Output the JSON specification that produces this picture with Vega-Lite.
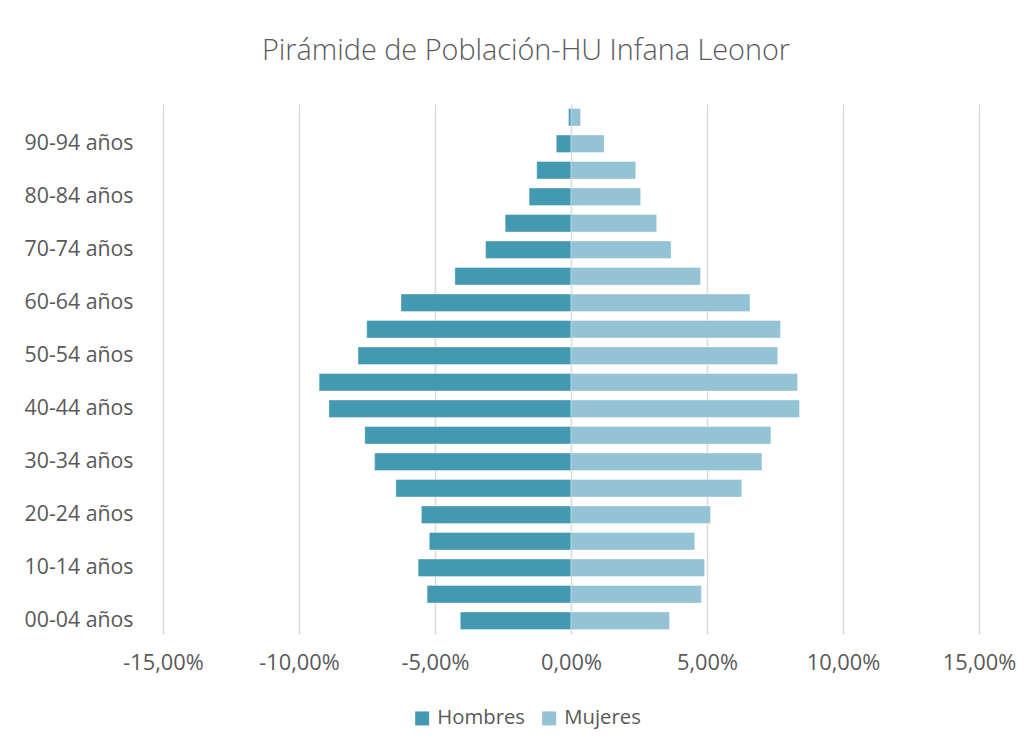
{
  "$schema": "https://vega.github.io/schema/vega-lite/v6.json",
  "width": 816,
  "height": 530,
  "autosize": {"type": "none"},
  "padding": {"left": 163, "top": 104, "right": 51, "bottom": 115},
  "background": "white",
  "title": {
    "text": "Pirámide de Población-HU Infana Leonor",
    "anchor": "middle",
    "frame": "group",
    "dx": -45,
    "offset": 38,
    "font": "Open Sans",
    "fontSize": 28.8,
    "fontWeight": 300,
    "color": "#595959"
  },
  "data": {
    "values": [
      {"edad": "00-04 años", "sexo": "Hombres", "valor": -0.0407},
      {"edad": "05-09 años", "sexo": "Hombres", "valor": -0.0529},
      {"edad": "10-14 años", "sexo": "Hombres", "valor": -0.0562},
      {"edad": "15-19 años", "sexo": "Hombres", "valor": -0.0521},
      {"edad": "20-24 años", "sexo": "Hombres", "valor": -0.0550},
      {"edad": "25-29 años", "sexo": "Hombres", "valor": -0.0644},
      {"edad": "30-34 años", "sexo": "Hombres", "valor": -0.0722},
      {"edad": "35-39 años", "sexo": "Hombres", "valor": -0.0758},
      {"edad": "40-44 años", "sexo": "Hombres", "valor": -0.0890},
      {"edad": "45-49 años", "sexo": "Hombres", "valor": -0.0926},
      {"edad": "50-54 años", "sexo": "Hombres", "valor": -0.0783},
      {"edad": "55-59 años", "sexo": "Hombres", "valor": -0.0751},
      {"edad": "60-64 años", "sexo": "Hombres", "valor": -0.0625},
      {"edad": "65-69 años", "sexo": "Hombres", "valor": -0.0427},
      {"edad": "70-74 años", "sexo": "Hombres", "valor": -0.0314},
      {"edad": "75-79 años", "sexo": "Hombres", "valor": -0.0242},
      {"edad": "80-84 años", "sexo": "Hombres", "valor": -0.0154},
      {"edad": "85-89 años", "sexo": "Hombres", "valor": -0.0126},
      {"edad": "90-94 años", "sexo": "Hombres", "valor": -0.0054},
      {"edad": "95+ años", "sexo": "Hombres", "valor": -0.0009},
      {"edad": "00-04 años", "sexo": "Mujeres", "valor": 0.0362},
      {"edad": "05-09 años", "sexo": "Mujeres", "valor": 0.0479},
      {"edad": "10-14 años", "sexo": "Mujeres", "valor": 0.0491},
      {"edad": "15-19 años", "sexo": "Mujeres", "valor": 0.0455},
      {"edad": "20-24 años", "sexo": "Mujeres", "valor": 0.0513},
      {"edad": "25-29 años", "sexo": "Mujeres", "valor": 0.0628},
      {"edad": "30-34 años", "sexo": "Mujeres", "valor": 0.0702},
      {"edad": "35-39 años", "sexo": "Mujeres", "valor": 0.0735},
      {"edad": "40-44 años", "sexo": "Mujeres", "valor": 0.0840},
      {"edad": "45-49 años", "sexo": "Mujeres", "valor": 0.0833},
      {"edad": "50-54 años", "sexo": "Mujeres", "valor": 0.0760},
      {"edad": "55-59 años", "sexo": "Mujeres", "valor": 0.0770},
      {"edad": "60-64 años", "sexo": "Mujeres", "valor": 0.0658},
      {"edad": "65-69 años", "sexo": "Mujeres", "valor": 0.0476},
      {"edad": "70-74 años", "sexo": "Mujeres", "valor": 0.0368},
      {"edad": "75-79 años", "sexo": "Mujeres", "valor": 0.0315},
      {"edad": "80-84 años", "sexo": "Mujeres", "valor": 0.0256},
      {"edad": "85-89 años", "sexo": "Mujeres", "valor": 0.0238},
      {"edad": "90-94 años", "sexo": "Mujeres", "valor": 0.0122},
      {"edad": "95+ años", "sexo": "Mujeres", "valor": 0.0035}
    ]
  },
  "mark": {"type": "bar", "stroke": "white", "strokeWidth": 0.6, "strokeOpacity": 0.6},
  "encoding": {
    "y": {
      "field": "edad",
      "type": "ordinal",
      "sort": "descending",
      "title": null,
      "scale": {"paddingInner": 0.34, "paddingOuter": 0.17},
      "axis": {
        "values": ["00-04 años", "10-14 años", "20-24 años", "30-34 años", "40-44 años", "50-54 años", "60-64 años", "70-74 años", "80-84 años", "90-94 años"],
        "ticks": false,
        "domain": false,
        "grid": false,
        "labelPadding": 30,
        "labelFont": "Open Sans",
        "labelFontSize": 21.3,
        "labelColor": "#595959"
      }
    },
    "x": {
      "field": "valor",
      "type": "quantitative",
      "stack": null,
      "title": null,
      "scale": {"domain": [-0.15, 0.15], "nice": false},
      "axis": {
        "values": [-0.15, -0.1, -0.05, 0, 0.05, 0.1, 0.15],
        "labelExpr": "replace(replace(format(datum.value, '.2%'), '.', ','), '\u2212', '-')",
        "labelFlush": false,
        "labelOverlap": false,
        "ticks": false,
        "domain": false,
        "grid": true,
        "gridColor": "#d9d9d9",
        "gridWidth": 1.5,
        "labelPadding": 18,
        "labelFont": "Open Sans",
        "labelFontSize": 21.8,
        "labelColor": "#595959"
      }
    },
    "color": {
      "field": "sexo",
      "type": "nominal",
      "scale": {"domain": ["Hombres", "Mujeres"], "range": ["#4399b1", "#93c3d5"]},
      "legend": {
        "title": null,
        "orient": "none",
        "direction": "horizontal",
        "legendX": 249,
        "legendY": 604,
        "symbolType": "square",
        "symbolSize": 196,
        "symbolStrokeWidth": 0,
        "labelFont": "Open Sans",
        "labelFontSize": 20.3,
        "labelColor": "#595959",
        "columnPadding": 14,
        "labelOffset": 5
      }
    }
  },
  "config": {"view": {"stroke": null}}
}
